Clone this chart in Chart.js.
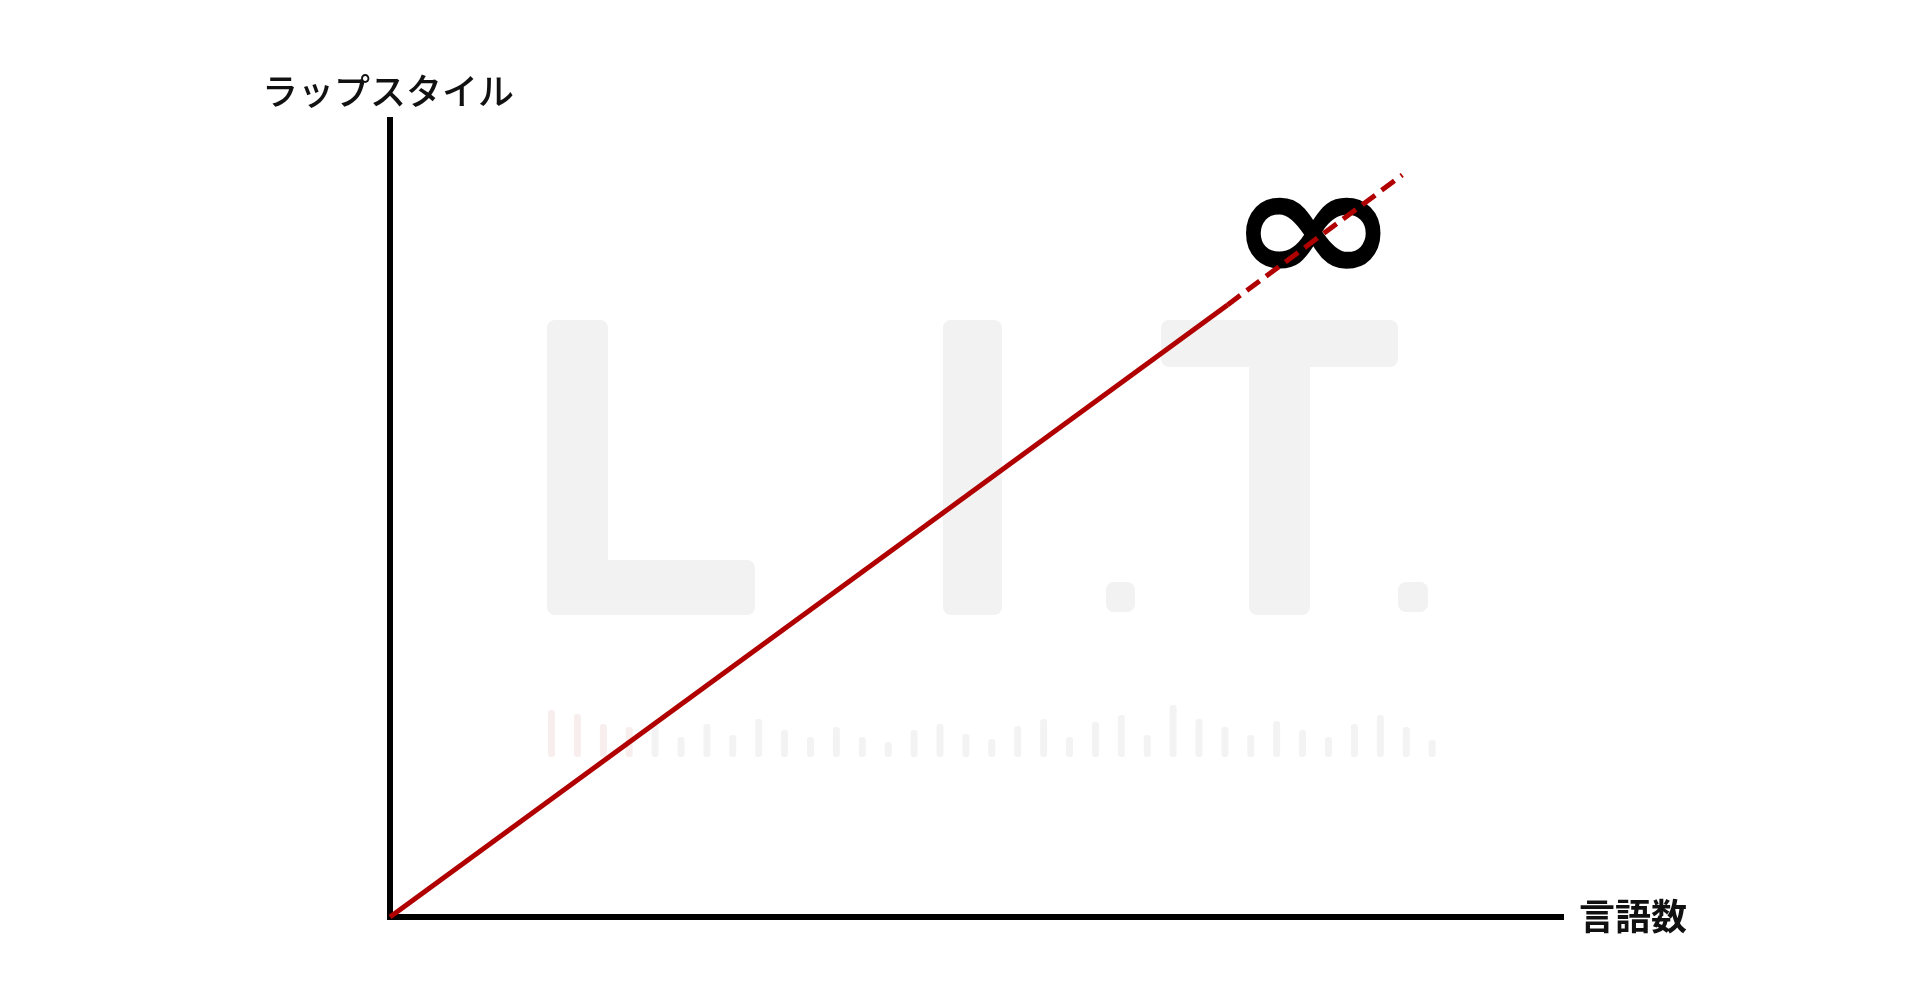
<!DOCTYPE html>
<html lang="ja">
<head>
<meta charset="utf-8">
<title>ラップスタイル と 言語数</title>
<script src="https://cdn.jsdelivr.net/npm/chart.js@4.4.1/dist/chart.umd.min.js"></script>
<style>
    html, body { margin: 0; padding: 0; background: #ffffff; }
    canvas { display: block; }
</style>
</head>
<body>
<canvas id="chart" width="1920" height="1005"></canvas>
<script>
// ── Data ─────────────────────────────────────────────────
const axisTitles = { x: '言語数', y: 'ラップスタイル' };
const solidX = [0, 71.4];
const solidY = [0, 76.8];
const dashedX = [71.4, 86.3];
const dashedY = [76.8, 93.1];
const infinityLabel = '∞';
const infinityAt = [78.7, 85.0];
const waveHeights = [47, 43, 33, 30, 33, 20, 33, 22, 38, 27, 20, 30, 20, 15, 27, 33, 23, 18, 31, 38, 20, 35, 42, 22, 52, 38, 30, 22, 36, 27, 20, 33, 42, 30, 17];

const RED = '#b00000';

const toPoints = (xs, ys) => xs.map((x, i) => ({ x, y: ys[i] }));

// ── Watermark (faint L.I.T. logo behind the chart) ──────
const watermark = {
    id: 'watermark',
    beforeDatasetsDraw(chart) {
        const ctx = chart.ctx;
        ctx.save();
        ctx.fillStyle = '#f2f2f2';
        const boxes = [
            [547, 320, 61, 295], [547, 560, 208, 55],   // L
            [943, 320, 59, 295],                        // I
            [1106, 582, 29, 30],                        // .
            [1161, 320, 237, 47], [1249, 320, 61, 295], // T
            [1398, 582, 30, 30],                        // .
        ];
        boxes.forEach(([x, y, w, h]) => {
            ctx.beginPath();
            ctx.roundRect(x, y, w, h, 8);
            ctx.fill();
        });
        // waveform strip under the letters
        waveHeights.forEach((h, i) => {
            ctx.fillStyle = i < 4 ? '#f8eeee' : '#f3f3f3';
            ctx.beginPath();
            ctx.roundRect(548 + i * 25.9, 757 - h, 7, h, 3);
            ctx.fill();
        });
        ctx.restore();
    },
};

// ── Labels: axis titles and the infinity mark ───────────
const labels = {
    id: 'labels',
    afterDraw(chart) {
        const { ctx, chartArea } = chart;
        ctx.save();
        ctx.fillStyle = '#111111';
        ctx.textBaseline = 'middle';

        ctx.font = '500 36px "Noto Sans CJK JP"';
        ctx.textAlign = 'center';
        ctx.fillText(axisTitles.y, chartArea.left - 2, chartArea.top - 29);

        ctx.font = 'bold 36px "Noto Sans CJK JP"';
        ctx.textAlign = 'left';
        ctx.fillText(axisTitles.x, chartArea.right + 16, chartArea.bottom - 1);
        ctx.restore();
    },
    beforeDatasetsDraw(chart) {
        const { ctx, scales } = chart;
        ctx.save();
        ctx.fillStyle = '#000000';
        ctx.font = 'bold 180px "DejaVu Sans"';
        ctx.textAlign = 'center';
        ctx.textBaseline = 'middle';
        ctx.translate(scales.x.getPixelForValue(infinityAt[0]), scales.y.getPixelForValue(infinityAt[1]));
        ctx.scale(1.15, 0.95);
        ctx.fillText(infinityLabel, 0, 0);
        ctx.restore();
    },
};

new Chart(document.getElementById('chart'), {
    type: 'scatter',
    data: {
        datasets: [
            {
                data: toPoints(solidX, solidY),
                showLine: true,
                borderColor: RED,
                borderWidth: 5,
                pointRadius: 0,
                clip: false,
            },
            {
                data: toPoints(dashedX, dashedY),
                showLine: true,
                borderColor: RED,
                borderWidth: 5,
                borderDash: [16, 8],
                pointRadius: 0,
                clip: false,
            },
        ],
    },
    options: {
        responsive: false,
        animation: false,
        layout: { padding: { left: 390, top: 120, right: 357, bottom: 88 } },
        plugins: {
            legend: { display: false },
            tooltip: { enabled: false },
        },
        scales: {
            x: {
                type: 'linear', min: 0, max: 100,
                grid: { display: false, drawTicks: false },
                ticks: { display: false },
                border: { display: true, color: '#000000', width: 6 },
            },
            y: {
                type: 'linear', min: 0, max: 100,
                grid: { display: false, drawTicks: false },
                ticks: { display: false },
                border: { display: true, color: '#000000', width: 6 },
            },
        },
    },
    plugins: [watermark, labels],
});
</script>
</body>
</html>
